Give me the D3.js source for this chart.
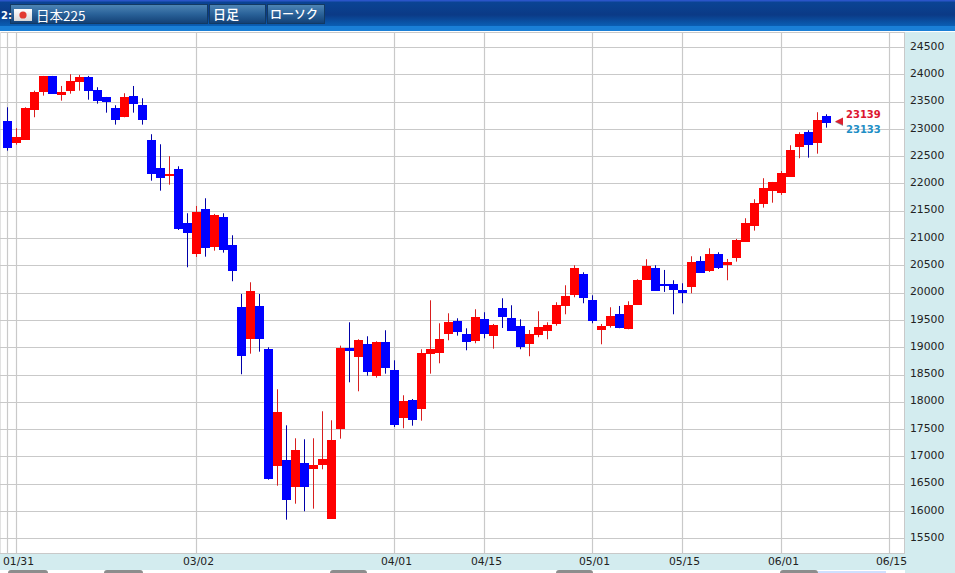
<!DOCTYPE html>
<html><head><meta charset="utf-8">
<script src="https://cdn.jsdelivr.net/npm/d3@7/dist/d3.min.js"></script>
<style>html,body{margin:0;padding:0;background:#fff;overflow:hidden}svg{display:block}</style>
</head><body><svg id="c" width="955" height="573"></svg>
<script>
const opens =[23145,22742,22797,23347,23677,23970,23622,23695,23860,23951,23713,23585,23383,23219,23603,23438,22797,22284,22138,22266,21277,20714,21533,20837,21387,20874,19738,19157,19756,18968,16830,16935,16446,16880,16775,16849,15859,17503,18987,18822,19060,18474,19097,18584,17704,18034,17869,18877,18895,19243,19481,19243,19115,19518,19206,19719,19536,19390,19060,19225,19298,19426,19756,19957,20342,19866,19316,19390,19610,19335,19774,20232,20452,20159,20159,20049,20104,20581,20397,20709,20507,20635,20929,21222,21625,21863,21826,22119,22669,22938,22742,23231];
const highs =[23396,23012,23396,23700,23970,23970,23786,24001,23988,23970,23763,23585,23433,23653,23786,23561,22902,22718,22499,22315,21454,21588,21729,21442,21454,21051,19976,20190,19976,18999,18230,17570,17332,17314,17332,17827,17662,19029,19457,19146,19201,19109,19311,18761,18120,18052,18963,19860,19439,19622,19531,19347,19696,19641,19426,19897,19769,19512,19316,19659,19457,19824,20135,20502,20373,19952,19426,19732,19756,19842,20245,20612,20502,20416,20227,20172,20667,20667,20813,20740,20617,20984,21363,21711,22096,22028,22229,22700,22938,22975,23305,23268];
const lows  =[22601,22711,22797,23213,23609,23640,23517,23645,23700,23535,23462,23297,23078,23213,23297,23078,22051,21868,21978,21148,20465,20654,20659,20769,20733,20209,18505,18882,18919,16574,16464,15841,16134,15995,16043,16764,15859,17325,18358,18193,18479,18443,18516,17539,17516,17563,17655,18516,18706,19128,19212,18944,19073,19164,18974,19353,19298,18963,18835,19183,19146,19395,19604,19916,19806,19439,19054,19359,19348,19329,19774,20232,20031,20013,19604,19806,19989,20361,20379,20434,20227,20568,20929,21136,21557,21648,21790,22119,22462,22473,22546,23022];
const closes=[22656,22852,23383,23677,23970,23640,23677,23878,23951,23700,23512,23493,23164,23585,23457,23164,22174,22101,22180,21172,21099,21478,20819,21423,20788,20397,18846,20031,19157,16592,17814,16207,17118,16446,16838,16953,17301,18987,18932,19133,18547,19097,18620,17576,18016,17668,18895,18968,19151,19463,19280,19097,19555,19243,19408,19555,19298,19005,19243,19371,19408,19774,19939,20452,19903,19481,19390,19573,19353,19774,20232,20489,20031,20122,20049,19994,20562,20361,20709,20452,20562,20965,21277,21643,21918,22028,22193,22614,22907,22706,23158,23109];
const priceTicks=[15500,16000,16500,17000,17500,18000,18500,19000,19500,20000,20500,21000,21500,22000,22500,23000,23500,24000,24500];
const dateLabels=["01/31","03/02","04/01","04/15","05/01","05/15","06/01","06/15"];
const dateSlots=[1,21,43,53,65,75,86,98];
const extraGridSlots=[0];
const lastQuotes=["23139","23133"];
const headerTexts=["2:","日本225","日足","ローソク"];

const svg=d3.select("#c");
const y=d3.scaleLinear().domain([15500,24500]).range([538.3,47]);
const x=d3.scaleLinear().domain([0,98]).range([7.5,889.5]);
const defs=svg.append("defs");
const grad=(id,stops)=>{const g=defs.append("linearGradient").attr("id",id).attr("x1",0).attr("y1",0).attr("x2",0).attr("y2",1);
  stops.forEach(([o,c])=>g.append("stop").attr("offset",o).attr("stop-color",c));};
grad("hdr",[[0,"#0a4596"],[0.55,"#0b3a86"],[1,"#0a62b8"]]);
grad("btn",[[0,"#4f86b6"],[0.5,"#2a6299"],[1,"#123f74"]]);
grad("flag",[[0,"#ffffff"],[1,"#d8d8d8"]]);

// page
svg.append("rect").attr("width",955).attr("height",573).attr("fill","#fff");
svg.append("rect").attr("x",905).attr("y",32).attr("width",50).attr("height",541).attr("fill","#d3ecef");
svg.append("rect").attr("x",0).attr("y",553).attr("width",905).attr("height",17).attr("fill","#d3ecef");
svg.append("rect").attr("x",0).attr("y",570).attr("width",898).attr("height",3).attr("fill","#fff");
// bottom scroll buttons
[[8,40],[104,39],[330,37],[556,37],[780,38]].forEach(([a,w])=>svg.append("rect").attr("x",a).attr("y",570).attr("width",w).attr("height",6).attr("rx",3).attr("fill","#8d8d8d"));
svg.append("rect").attr("x",818).attr("y",571).attr("width",68).attr("height",2).attr("fill","#cfe0ff");

// header
svg.append("rect").attr("width",955).attr("height",27).attr("fill","url(#hdr)");
svg.append("rect").attr("y",0).attr("width",955).attr("height",1.5).attr("fill","#2a55c8");
svg.append("rect").attr("y",26).attr("width",955).attr("height",5).attr("fill","#1a7fd6");
[[10.5,197],[209.5,56],[267.5,57]].forEach(([a,w])=>svg.append("rect").attr("x",a).attr("y",4.5).attr("width",w).attr("height",19).attr("fill","url(#btn)").attr("stroke","#123a63"));
svg.append("rect").attr("x",14).attr("y",9).attr("width",18).attr("height",12).attr("fill","url(#flag)");
svg.append("circle").attr("cx",23).attr("cy",15).attr("r",3.6).attr("fill","#e23a30");
const hdrFont="'Noto Sans CJK JP','Noto Sans',sans-serif";
svg.append("text").attr("x",1).attr("y",19).attr("fill","#fff").attr("font-family","'DejaVu Sans',sans-serif").attr("font-size",10).attr("font-weight","bold").text(headerTexts[0]);
svg.append("text").attr("x",36).attr("y",21).attr("fill","#fff").attr("font-family",hdrFont).attr("font-size",13.5).text(headerTexts[1]);
svg.append("text").attr("x",213).attr("y",18.5).attr("fill","#fff").attr("font-family",hdrFont).attr("font-size",13).attr("font-weight","500").text(headerTexts[2]);
svg.append("text").attr("x",270).attr("y",18.5).attr("fill","#fff").attr("font-family",hdrFont).attr("font-size",12).attr("font-weight","500").text(headerTexts[3]);

// plot frame and grid
const G="#c9c9c9";
svg.append("line").attr("x1",0).attr("x2",905).attr("y1",32.5).attr("y2",32.5).attr("stroke",G).attr("stroke-width",1.2);
svg.append("line").attr("x1",0).attr("x2",905).attr("y1",553.5).attr("y2",553.5).attr("stroke",G);
svg.append("line").attr("x1",0.5).attr("x2",0.5).attr("y1",32).attr("y2",553).attr("stroke","#e2e2e2");
svg.append("line").attr("x1",904.5).attr("x2",904.5).attr("y1",32).attr("y2",553).attr("stroke",G);
const grid=svg.append("g");
grid.selectAll(".h").data(priceTicks).join("line").attr("x1",0).attr("x2",905)
  .attr("y1",d=>Math.round(y(d))+.5).attr("y2",d=>Math.round(y(d))+.5).attr("stroke",G).attr("stroke-width",1.2);
grid.selectAll(".v").data(extraGridSlots.concat(dateSlots)).join("line").attr("x1",d=>x(d)).attr("x2",d=>x(d))
  .attr("y1",32).attr("y2",553).attr("stroke",G).attr("stroke-width",1.2);

// axes
const yAxis=svg.append("g").attr("transform","translate(910,-1.3)")
  .call(d3.axisRight(y).tickValues(priceTicks).tickSize(0).tickPadding(0).tickFormat(d3.format("d")));
const xAxis=svg.append("g").attr("transform","translate(1.5,554.5)")
  .call(d3.axisBottom(x).tickValues(dateSlots).tickSize(0).tickPadding(3).tickFormat((d,i)=>dateLabels[i]));
[yAxis,xAxis].forEach(a=>{a.select(".domain").remove();
  a.selectAll("text").attr("font-family","'DejaVu Sans',Verdana,sans-serif").attr("font-size",10.8).attr("fill","#222");});

// candles
const idx=d3.range(opens.length);
const up=i=>closes[i]>=opens[i];
const g=svg.append("g");
g.selectAll(".w").data(idx).join("line").attr("x1",x).attr("x2",x)
  .attr("y1",i=>y(highs[i])).attr("y2",i=>y(lows[i]))
  .attr("stroke",i=>up(i)?"#d81e1e":"#0000a8").attr("stroke-width",1);
g.selectAll(".b").data(idx).join("rect")
  .attr("x",i=>x(i)-4.5).attr("width",9)
  .attr("y",i=>Math.round(y(Math.max(opens[i],closes[i]))))
  .attr("height",i=>Math.max(2,Math.round(y(Math.min(opens[i],closes[i])))-Math.round(y(Math.max(opens[i],closes[i])))))
  .attr("fill",i=>up(i)?"#ff0000":"#0000ff");

// last price marker
svg.append("path").attr("d","M835,122 L843,126 L843,120 Z").attr("fill","#8a8f9a");
svg.append("path").attr("d","M835,121.5 L843,117.5 L843,125 Z").attr("fill","#dd1f2e");
const lab=svg.append("g").attr("font-family","'DejaVu Sans',Verdana,sans-serif").attr("font-size",10).attr("font-weight","bold");
lab.append("text").attr("x",846).attr("y",117.5).attr("fill","#dd1530").text(lastQuotes[0]);
lab.append("text").attr("x",846).attr("y",132.5).attr("fill","#1f8fc6").text(lastQuotes[1]);
</script></body></html>
